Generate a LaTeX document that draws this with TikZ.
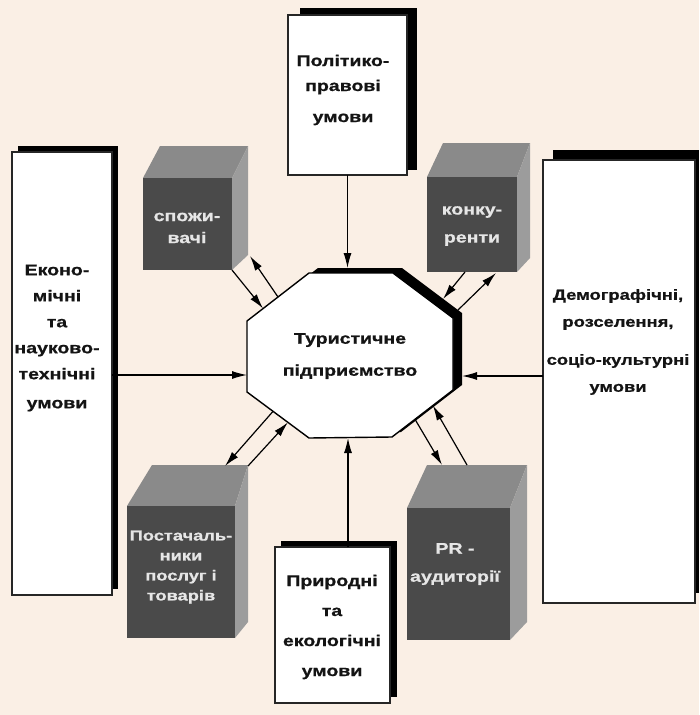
\documentclass[tikz,border=0pt]{standalone}
\usepackage{fontspec}
\setmainfont{Liberation Sans}
\newfontfamily\wf[FakeStretch=1.26, BoldFeatures={FakeBold=0.8}]{Liberation Sans}
\usetikzlibrary{arrows.meta,calc}
\definecolor{bgc}{RGB}{250,239,229}
\definecolor{frontc}{RGB}{74,74,74}
\definecolor{topc}{RGB}{138,138,138}
\definecolor{sidec}{RGB}{156,156,156}
\definecolor{cubetext}{RGB}{230,230,230}
\tikzset{
  panel/.style={draw=black!85, line width=1.1pt, fill=white, inner sep=0pt, outer sep=0pt},
  shadowfill/.style={fill=black, draw=none},
  lbl/.style={font=\wf\bfseries\fontsize{15.5}{25}\selectfont, align=center, inner sep=0pt, text=black!92},
  cubelbl/.style={lbl, text=cubetext},
  arr/.style={line width=1.2pt, -{Latex[length=15pt,width=8pt]}},
  frontface/.style={fill=frontc},
  topface/.style={fill=topc},
  sideface/.style={fill=sidec},
}
\begin{document}
\begin{tikzpicture}[x=1pt,y=-1pt]
\useasboundingbox (0,0) rectangle (699,715);
\fill[bgc] (0,0) rectangle (699,715);

% ---------- outer boxes: shadows ----------
\fill[shadowfill] (300,8) rectangle (417,170);
\fill[shadowfill] (18,146) rectangle (118,589);
\fill[shadowfill] (553,150) rectangle (699,593);
\fill[shadowfill] (281,541) rectangle (397,697);

% ---------- outer boxes ----------
\node[panel, minimum width=119pt, minimum height=160pt] (tbox) at (347.5,95) {};
\node[panel, minimum width=100pt, minimum height=443pt] (lbox) at (62,373.5) {};
\node[panel, minimum width=152pt, minimum height=443pt] (rbox) at (619,381.5) {};
\node[panel, minimum width=115pt, minimum height=156pt] (bbox) at (332.5,625) {};

\node[lbl, font=\wf\bfseries\fontsize{15.5}{25}\selectfont] (ttext) at (343,90) {Політико-\\правові\\[6pt]умови};
\node[lbl, font=\wf\bfseries\fontsize{15.5}{26}\selectfont] (ltext) at (57,338) {Еконо-\\мічні\\та\\науково-\\технічні\\[3pt]умови};
\node[lbl, font=\wf\bfseries\fontsize{14.6}{27}\selectfont] (rtext) at (618,342) {Демографічні,\\розселення,\\[11pt]соціо-культурні\\умови};
\node[lbl, font=\wf\bfseries\fontsize{15.5}{30}\selectfont] (btext) at (332,627) {Природні\\та\\екологічні\\умови};

% ---------- octagon ----------
\coordinate (A) at (309,273);
\coordinate (B) at (393,273);
\coordinate (C) at (453,318);
\coordinate (D) at (453,390);
\coordinate (E) at (392,437);
\coordinate (F) at (309,438);
\coordinate (G) at (247,392);
\coordinate (H) at (247,321);
\fill[black] ($(A)+(9,-5)$) -- ($(B)+(9,-5)$) -- ($(C)+(9,-5)$) -- ($(D)+(9,-5)$) -- ($(E)+(9,-5)$) -- ($(F)+(9,-5)$) -- ($(G)+(9,-5)$) -- ($(H)+(9,-5)$) -- cycle;
\draw[fill=white, line width=1.4pt] (A) -- (B) -- (C) -- (D) -- (E) -- (F) -- (G) -- (H) -- cycle;
\node[lbl, font=\wf\bfseries\fontsize{15.5}{32}\selectfont] (firm) at (350,356) {Туристичне\\підприємство};

% ---------- cubes ----------
% споживачі
\fill[topface] (143,178) -- (232,178) -- (248,146) -- (160,146) -- cycle;
\fill[sideface] (232,178) -- (248,146) -- (248,255) -- (232,270) -- cycle;
\fill[frontface] (143,178) rectangle (232,270);
\node[cubelbl, font=\wf\bfseries\fontsize{15.5}{22}\selectfont] (c1) at (187,228) {спожи-\\вачі};
% конкуренти
\fill[topface] (427,177) -- (517,177) -- (530,143) -- (443,143) -- cycle;
\fill[sideface] (517,177) -- (530,143) -- (530,258) -- (517,272) -- cycle;
\fill[frontface] (427,177) rectangle (517,272);
\node[cubelbl, font=\wf\bfseries\fontsize{15.5}{28}\selectfont] (c2) at (472,226) {конку-\\ренти};
% постачальники
\fill[topface] (127,506) -- (235,506) -- (248,465) -- (152,465) -- cycle;
\fill[sideface] (235,506) -- (248,465) -- (248,622) -- (235,638) -- cycle;
\fill[frontface] (127,506) rectangle (235,638);
\node[cubelbl, font=\wf\bfseries\fontsize{14.5}{20}\selectfont] (c3) at (181,567) {Постачаль-\\ники\\послуг і\\товарів};
% PR
\fill[topface] (407,508) -- (510,508) -- (527,465) -- (427,465) -- cycle;
\fill[sideface] (510,508) -- (527,465) -- (527,622) -- (510,640) -- cycle;
\fill[frontface] (407,508) rectangle (510,640);
\node[cubelbl, font=\wf\bfseries\fontsize{15.5}{28}\selectfont] (c4) at (455,564) {PR -\\аудиторії};

% ---------- connector end points ----------
\coordinate (octT) at (348,268);
\coordinate (octB) at (348,438);
\coordinate (octL) at (247,375);
\coordinate (octR) at (462,376);
\coordinate (s1o) at ($(H)!0.26!(A)$);
\coordinate (s2o) at ($(H)!0.5!(A)$);
\coordinate (s1c) at (232,270);
\coordinate (s2c) at (250,256);
\coordinate (k1o) at (443,299);
\coordinate (k2o) at (458,310);
\coordinate (k1c) at (465,272);
\coordinate (k2c) at (496,273);
\coordinate (p1o) at ($(G)!0.42!(F)$);
\coordinate (p2o) at ($(G)!0.66!(F)$);
\coordinate (p1c) at (225,466);
\coordinate (p2c) at (248,466);
\coordinate (r1o) at ($(E)!0.377!(D)$);
\coordinate (r2o) at ($(E)!0.67!(D)$);
\coordinate (r1c) at (442,465);
\coordinate (r2c) at (467,465);

% ---------- connectors ----------
\draw[arr] (tbox.south) -- (tbox.south |- octT);
\draw[arr] (bbox.north -| octB) -- (octB);
\draw[arr] (lbox.east |- octL) -- (octL);
\draw[arr] (rbox.west |- octR) -- (octR);
\draw[arr] (s1c) -- (s1o);
\draw[arr] (s2o) -- (s2c);
\draw[arr] (k1c) -- (k1o);
\draw[arr] (k2o) -- (k2c);
\draw[arr] (p1o) -- (p1c);
\draw[arr] (p2c) -- (p2o);
\draw[arr] (r1o) -- (r1c);
\draw[arr] (r2c) -- (r2o);
\end{tikzpicture}
\end{document}
